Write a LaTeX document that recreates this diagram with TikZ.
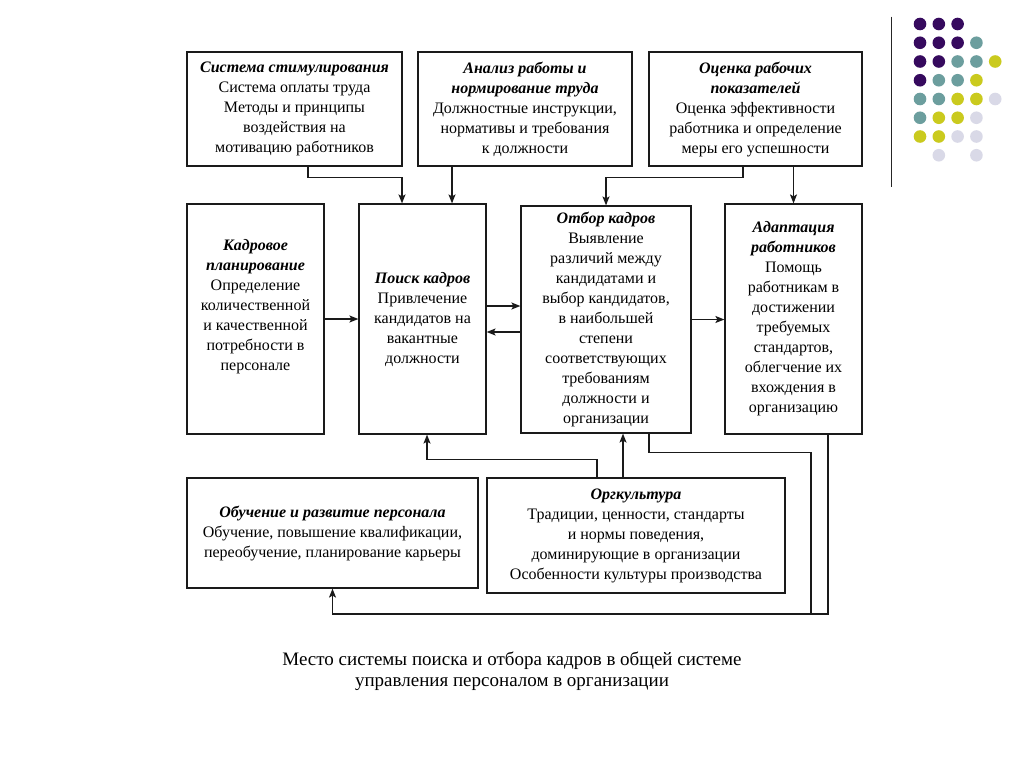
\documentclass[tikz,border=0pt]{standalone}
\usepackage{fontspec}
\setmainfont{Liberation Serif}
\usetikzlibrary{arrows.meta}
\newcommand\hdr[1]{\textbf{\textit{#1}}}
\definecolor{dpurple}{HTML}{360A5E}
\definecolor{dteal}{HTML}{6C9E9E}
\definecolor{dyellow}{HTML}{CACA1E}
\definecolor{dlav}{HTML}{D9D9E7}
\definecolor{edge}{HTML}{1A1A1A}
\begin{document}
\begin{tikzpicture}[x=1pt,y=-1pt,
  box/.style={draw=edge, line width=1.2pt, align=center, inner sep=0pt, font=\fontsize{16}{20}\selectfont},
  arr/.style={draw=edge, line width=1.2pt, -{Stealth[length=9pt,width=7pt,inset=2pt]}},
  ln/.style={draw=edge, line width=1.2pt},
  dot/.style={radius=6.3}]
\useasboundingbox[fill=white] (0,0) rectangle (1024,768);

% top row
\node[box, minimum width=215pt, minimum height=114pt] (A) at (294.5,109)
  {\hdr{Система стимулирования}\\Система оплаты труда\\Методы и принципы\\воздействия на\\мотивацию работников};
\node[box, minimum width=214pt, minimum height=114pt] (B) at (525,109)
  {\hdr{Анализ работы и}\\\hdr{нормирование труда}\\Должностные инструкции,\\нормативы и требования\\к должности};
\node[box, minimum width=213pt, minimum height=114pt] (C) at (755.5,109)
  {\hdr{Оценка рабочих}\\\hdr{показателей}\\Оценка эффективности\\работника и определение\\меры его успешности};

% middle row
\node[box, minimum width=137pt, minimum height=230pt, text depth=28pt] (K) at (255.5,319)
  {\hdr{Кадровое}\\\hdr{планирование}\\Определение\\количественной\\и качественной\\потребности в\\персонале};
\node[box, minimum width=127pt, minimum height=230pt] (P) at (422.5,319)
  {\hdr{Поиск кадров}\\Привлечение\\кандидатов на\\вакантные\\должности};
\node[box, minimum width=170pt, minimum height=227pt] (O) at (606,319.5)
  {\hdr{Отбор кадров}\\Выявление\\различий между\\кандидатами и\\выбор кандидатов,\\в наибольшей\\степени\\соответствующих\\требованиям\\должности и\\организации};
\node[box, minimum width=137pt, minimum height=230pt] (D) at (793.5,319)
  {\hdr{Адаптация}\\\hdr{работников}\\Помощь\\работникам в\\достижении\\требуемых\\стандартов,\\облегчение их\\вхождения в\\организацию};

% bottom row
\node[box, minimum width=291pt, minimum height=110pt] (T) at (332.5,533)
  {\hdr{Обучение и развитие персонала}\\Обучение, повышение квалификации,\\переобучение, планирование карьеры};
\node[box, minimum width=298pt, minimum height=115pt] (G) at (636,535.5)
  {\hdr{Оргкультура}\\Традиции, ценности, стандарты\\и нормы поведения,\\доминирующие в организации\\Особенности культуры производства};

% caption
\node[align=center, inner sep=0pt, font=\fontsize{19}{21}\selectfont] (cap) at (512,671)
  {Место системы поиска и отбора кадров в общей системе\\управления персоналом в организации};

% connectors
\draw[arr] ([xshift=13.5pt]A.south) -- ++(0,11) -| ([xshift=-20.5pt]P.north);
\draw[arr] ([xshift=-73pt]B.south) -- ([xshift=29.5pt]P.north);
\draw[arr] ([xshift=-12.5pt]C.south) -- ++(0,11) -| (O.north);
\draw[arr] (C.south -| D.north) -- (D.north);
\draw[arr] (K.east) -- (K.east -| P.west);
\draw[arr] ([yshift=13pt]P.east) -- ([yshift=13pt]P.east -| O.west);
\draw[arr] ([yshift=-12.5pt]O.west) -- ([yshift=-12.5pt]O.west -| P.east);
\draw[arr] (O.east) -- (O.east -| D.west);
\draw[arr] ([xshift=-39pt]G.north) -- ++(0,-18) -| ([xshift=4.5pt]P.south);
\draw[arr] ([xshift=-13pt]G.north) -- ([xshift=-13pt]G.north |- O.south);
\coordinate (j1) at (811,614);
\draw[arr] ([xshift=43pt]O.south) -- ++(0,19) -| (j1) -| (T.south);
\draw[ln] ([xshift=34.5pt]D.south) |- (j1);

% decoration
\draw[line width=1.4pt, black!85] (891.7,16.7) -- (891.7,186.7);
\foreach \c/\x/\y in {
 dpurple/0/0, dpurple/1/0, dpurple/2/0,
 dpurple/0/1, dpurple/1/1, dpurple/2/1, dteal/3/1,
 dpurple/0/2, dpurple/1/2, dteal/2/2, dteal/3/2, dyellow/4/2,
 dpurple/0/3, dteal/1/3, dteal/2/3, dyellow/3/3,
 dteal/0/4, dteal/1/4, dyellow/2/4, dyellow/3/4, dlav/4/4,
 dteal/0/5, dyellow/1/5, dyellow/2/5, dlav/3/5,
 dyellow/0/6, dyellow/1/6, dlav/2/6, dlav/3/6,
 dlav/1/7, dlav/3/7}
  \fill[\c] (920+18.8*\x, 24+18.75*\y) circle[dot];
\end{tikzpicture}
\end{document}
